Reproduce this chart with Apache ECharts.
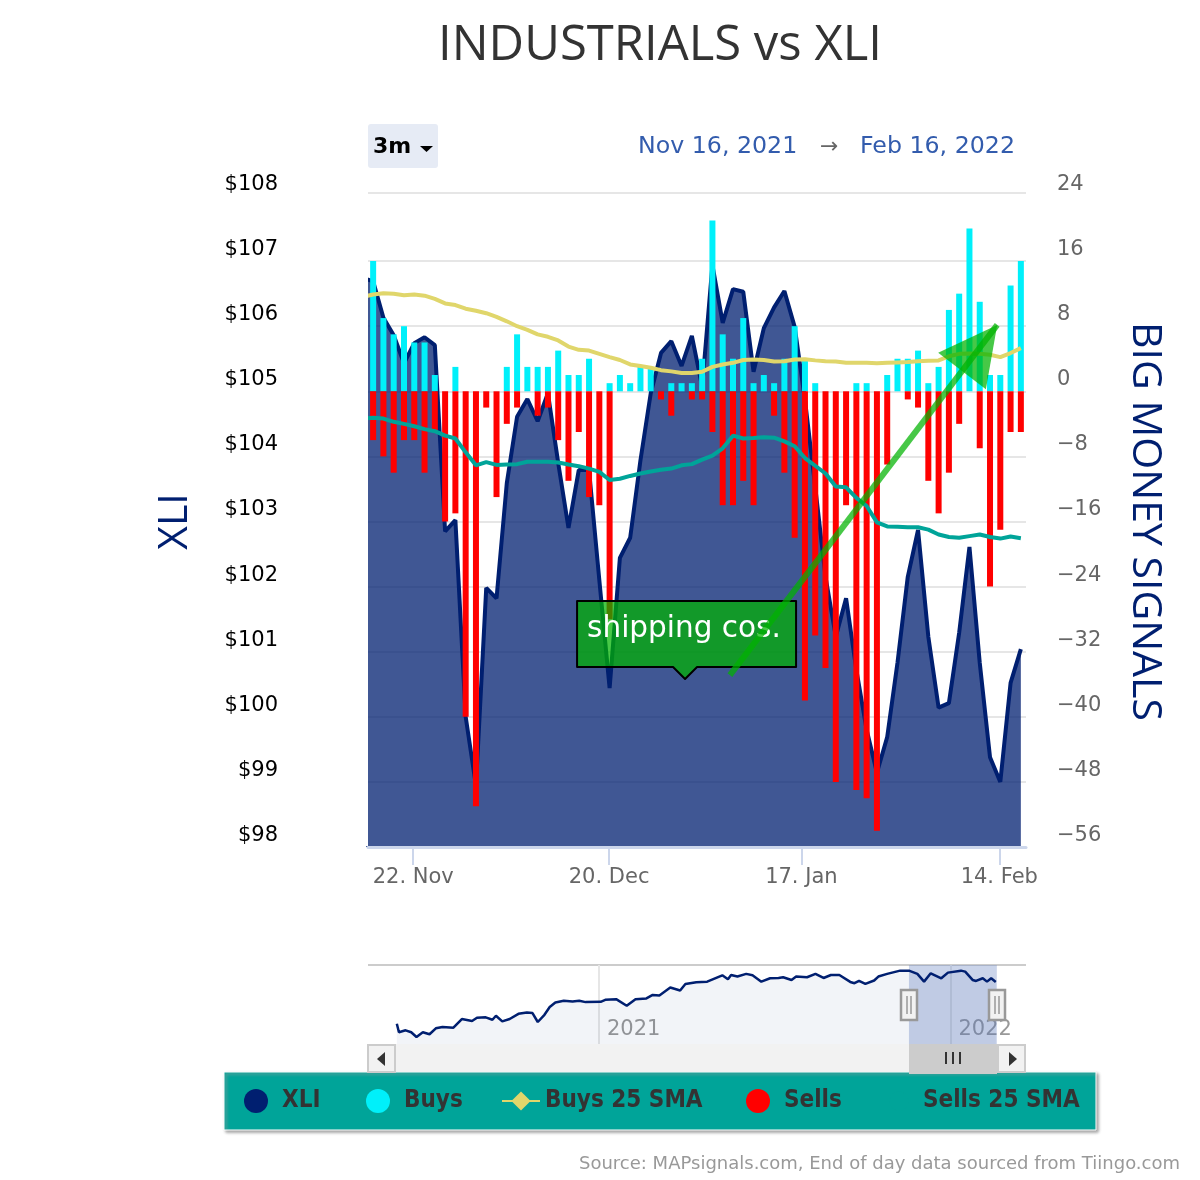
<!DOCTYPE html>
<html>
<head>
<meta charset="utf-8">
<style>
  html, body { margin: 0; padding: 0; background: #fff; }
  #chart { width: 1200px; height: 1180px; }
</style>
<script src="https://cdn.jsdelivr.net/npm/echarts@6/dist/echarts.min.js"></script>
</head>
<body>
<div id="chart"></div>
<script>
// first entry of the line arrays is the session before the window, clipped by the plot edge
const xliPrices = [106.74, 106.69, 106.13, 105.86, 105.43, 105.74, 105.83, 105.71, 102.85, 103.02, 100.0, 98.94, 101.98, 101.82, 103.59, 104.61, 104.88, 104.54, 104.97, 103.9, 102.9, 103.79, 103.79, 102.1, 100.44, 102.44, 102.75, 103.94, 104.97, 105.59, 105.77, 105.39, 105.85, 105.07, 106.94, 106.05, 106.57, 106.53, 105.3, 105.97, 106.29, 106.54, 105.99, 104.87, 103.53, 102.15, 101.23, 101.82, 100.72, 99.8, 99.14, 99.69, 100.83, 102.15, 102.87, 101.23, 100.14, 100.21, 101.29, 102.61, 100.83, 99.38, 99.0, 100.52, 101.04]
const buysSma = [11.6, 11.9, 12.05, 12.0, 11.8, 11.9, 11.75, 11.35, 10.8, 10.6, 10.15, 9.9, 9.6, 9.15, 8.6, 8.0, 7.55, 7.0, 6.7, 6.25, 5.5, 5.1, 5.0, 4.6, 4.2, 3.85, 3.3, 3.1, 2.9, 2.6, 2.45, 2.25, 2.25, 2.4, 3.0, 3.3, 3.5, 3.85, 3.9, 3.85, 3.65, 3.7, 3.9, 3.95, 3.8, 3.7, 3.65, 3.5, 3.5, 3.5, 3.45, 3.5, 3.55, 3.6, 3.7, 3.75, 3.8, 4.3, 4.6, 4.65, 4.6, 4.5, 4.2, 4.7, 5.3]
const sellsSma = [-3.35, -3.25, -3.35, -3.75, -4.0, -4.3, -4.65, -4.9, -5.45, -5.8, -7.5, -9.1, -8.7, -9.05, -9.0, -8.95, -8.65, -8.65, -8.65, -8.75, -9.0, -9.2, -9.5, -9.9, -10.9, -10.75, -10.4, -10.1, -9.85, -9.65, -9.5, -9.1, -8.95, -8.4, -7.9, -7.0, -5.45, -5.8, -5.75, -5.65, -5.7, -6.15, -6.75, -8.2, -9.15, -10.1, -11.7, -11.8, -13.1, -14.1, -16.1, -16.6, -16.65, -16.7, -16.7, -17.0, -17.6, -17.9, -18.0, -17.8, -17.6, -17.9, -18.1, -17.85, -18.05]
const buys = [16, 9, 7, 8, 6, 6, 2, 0, 3, 0, 0, 0, 0, 3, 7, 3, 3, 3, 5, 2, 2, 4, 0, 1, 2, 1, 3, 3, 0, 1, 1, 1, 4, 21, 7, 4, 9, 1, 2, 1, 4, 8, 4, 1, 0, 0, 0, 1, 1, 0, 2, 4, 4, 5, 1, 3, 10, 12, 20, 11, 2, 2, 13, 16]
const sells = [-6, -8, -10, -6, -6, -10, -5, -16, -15, -40, -51, -2, -13, -4, -2, 0, -3, -2, -6, -11, -5, -13, -14, -28, 0, 0, 0, 0, -1, -3, 0, -1, -1, -5, -14, -14, -11, -14, 0, -3, -10, -18, -38, -30, -34, -48, -14, -49, -50, -54, -9, 0, -1, -2, -11, -15, -10, -4, 0, -7, -24, -17, -5, -5]

const dateTicks = [3.9, 22.95, 41.65, 60.9]
const dateTickLabels = ['22. Nov', '20. Dec', '17. Jan', '14. Feb']

const navYears = [2020.425, 2020.431, 2020.45, 2020.466, 2020.481, 2020.499, 2020.518, 2020.536, 2020.555, 2020.586, 2020.61, 2020.639, 2020.653, 2020.678, 2020.697, 2020.707, 2020.725, 2020.746, 2020.771, 2020.795, 2020.811, 2020.826, 2020.845, 2020.86, 2020.876, 2020.9, 2020.925, 2020.944, 2020.962, 2021.005, 2021.018, 2021.049, 2021.079, 2021.104, 2021.135, 2021.153, 2021.172, 2021.203, 2021.231, 2021.246, 2021.277, 2021.308, 2021.351, 2021.367, 2021.376, 2021.394, 2021.419, 2021.437, 2021.462, 2021.487, 2021.511, 2021.524, 2021.548, 2021.561, 2021.592, 2021.616, 2021.639, 2021.66, 2021.684, 2021.715, 2021.727, 2021.74, 2021.758, 2021.783, 2021.795, 2021.82, 2021.857, 2021.882, 2021.906, 2021.925, 2021.944, 2021.974, 2021.993, 2022.03, 2022.042, 2022.063, 2022.073, 2022.092, 2022.104, 2022.116, 2022.129]
const navPrices = [69.4, 63.3, 64.7, 63.3, 60.0, 63.3, 61.9, 66.1, 67.1, 66.6, 72.7, 71.3, 73.6, 73.9, 72.2, 75.0, 71.0, 72.7, 76.4, 77.4, 76.9, 70.6, 75.7, 81.2, 84.4, 85.6, 85.1, 85.6, 84.7, 84.9, 86.3, 86.8, 82.1, 86.8, 87.3, 89.8, 89.4, 95.0, 92.9, 97.6, 98.8, 99.2, 103.7, 100.9, 103.9, 102.8, 104.7, 103.7, 99.2, 101.6, 101.8, 102.3, 100.4, 102.8, 102.3, 104.7, 101.8, 103.9, 103.9, 99.0, 98.1, 99.7, 97.6, 100.0, 102.8, 104.7, 107.0, 107.0, 104.7, 99.2, 105.1, 101.6, 105.6, 107.0, 106.3, 100.4, 99.7, 101.6, 99.2, 101.6, 99.0]
const navYearTicks = [2021, 2022]
const navWindow = [2021.882, 2022.132]

// annotation anchors, [session index, XLI price]
const calloutTip = [30.34, 100.58]
const arrowStart = [34.7, 100.64]
const arrowEnd = [60.7, 106.02]

const NAVY = '#001f70'
const TEAL = '#00a499'
const YELLOW = '#e0d66b'
const ANNOTATION_GREEN = 'rgba(0, 179, 0, 0.72)'
const FONT = '"DejaVu Sans", sans-serif'
const HEADING_FONT = '"Open Sans", sans-serif'
const LEGEND_FONT = '"DejaVu Sans Condensed", "DejaVu Sans", sans-serif'

const linePoints = (values) => values.map((v, i) => [i - 1, v])
const barPoints = (values) => values.map((v, i) => [i, v])

// one legend per entry: ECharts measures the condensed bold text short, so a shared row drifts
const legendEntry = (name, left, isDot) => ({
  left,
  top: 1084,
  itemWidth: isDot ? 42 : 38,
  itemHeight: 24,
  textStyle: { color: '#333', fontFamily: LEGEND_FONT, fontWeight: 'bold', fontSize: 24 },
  data: [isDot ? { name, icon: 'circle' } : { name }]
})

const renderCallout = (params, api) => {
  const [x, y] = api.coord(calloutTip)
  const left = x - 108
  const right = x + 111
  const top = y - 78
  const bottom = y - 12
  return {
    type: 'group',
    children: [{
      type: 'polygon',
      shape: {
        points: [[left, top], [right, top], [right, bottom], [x + 12, bottom], [x, y], [x - 12, bottom], [left, bottom]]
      },
      style: { fill: ANNOTATION_GREEN, stroke: '#000', lineWidth: 2, lineJoin: 'round' }
    }, {
      type: 'text',
      style: {
        text: 'shipping cos.',
        x: x - 98,
        y: y - 50,
        fill: '#fff',
        font: '29.5px ' + FONT,
        verticalAlign: 'middle'
      }
    }]
  }
}

const renderArrow = (params, api) => {
  const from = api.coord(arrowStart)
  const to = api.coord(arrowEnd)
  const len = Math.hypot(to[0] - from[0], to[1] - from[1])
  const ux = (to[0] - from[0]) / len
  const uy = (to[1] - from[1]) / len
  const back = [to[0] - ux * 58, to[1] - uy * 58]
  return {
    type: 'group',
    children: [{
      type: 'line',
      shape: { x1: from[0], y1: from[1], x2: to[0], y2: to[1] },
      style: { stroke: ANNOTATION_GREEN, lineWidth: 6, fill: null }
    }, {
      type: 'polygon',
      shape: {
        points: [to, [back[0] + uy * 30, back[1] - ux * 30], [back[0] - uy * 30, back[1] + ux * 30]]
      },
      style: { fill: ANNOTATION_GREEN }
    }]
  }
}

const headerText = (text, x, fill, font) => ({
  type: 'text',
  x,
  y: 147,
  style: { text, fill, font, verticalAlign: 'middle' }
})

const navHandle = (cx) => ({
  type: 'group',
  children: [
    { type: 'rect', z: 10, shape: { x: cx - 8, y: 990, width: 16, height: 30 }, style: { fill: '#f2f2f2', stroke: '#999', lineWidth: 2.5 } },
    { type: 'line', z: 10, shape: { x1: cx - 2, y1: 996, x2: cx - 2, y2: 1014 }, style: { stroke: '#999', lineWidth: 1.5 } },
    { type: 'line', z: 10, shape: { x1: cx + 2, y1: 996, x2: cx + 2, y2: 1014 }, style: { stroke: '#999', lineWidth: 1.5 } }
  ]
})

const chart = echarts.init(document.getElementById('chart'))

chart.setOption({
  animation: false,
  title: {
    text: 'INDUSTRIALS vs XLI',
    left: 655,
    textAlign: 'center',
    top: 17,
    textStyle: { fontFamily: HEADING_FONT, fontSize: 49, fontWeight: 'normal', color: '#333' }
  },
  grid: [
    { left: 368, right: 174, top: 196, height: 651 },
    { left: 368, right: 174, top: 965, height: 79 }
  ],
  xAxis: [{
    type: 'value',
    gridIndex: 0,
    min: -0.5,
    max: 63.5,
    z: 5,
    splitLine: { show: false },
    axisLine: { onZero: false, lineStyle: { color: '#ccd6eb', width: 3 } },
    axisTick: { customValues: dateTicks, length: 18, lineStyle: { color: '#ccd6eb', width: 2 } },
    axisLabel: {
      customValues: dateTicks,
      formatter: (value) => dateTickLabels[dateTicks.indexOf(value)],
      margin: 20,
      color: '#666',
      fontFamily: FONT,
      fontSize: 21
    }
  }, {
    type: 'value',
    gridIndex: 1,
    min: 2020.343,
    max: 2022.215,
    splitLine: { show: false },
    axisLine: { show: false },
    axisTick: { show: true, inside: true, length: 79, customValues: navYearTicks, lineStyle: { color: '#e6e6e6', width: 2 } },
    axisLabel: {
      customValues: navYearTicks,
      inside: true,
      align: 'left',
      margin: 4,
      padding: [0, 0, 0, 8],
      formatter: (value) => String(value),
      color: '#999',
      fontFamily: FONT,
      fontSize: 21
    }
  }],
  yAxis: [{
    type: 'value',
    gridIndex: 0,
    min: 98,
    max: 108,
    interval: 1,
    name: 'XLI',
    nameLocation: 'middle',
    nameRotate: 90,
    nameGap: 172,
    nameTextStyle: { color: NAVY, fontFamily: HEADING_FONT, fontSize: 41 },
    axisLine: { show: false },
    axisTick: { show: false },
    splitLine: { showMaxLine: false, lineStyle: { color: '#e6e6e6', width: 2 } },
    axisLabel: {
      margin: 90,
      verticalAlign: 'bottom',
      padding: [0, 0, 1, 0],
      formatter: (value) => '$' + value,
      color: '#000',
      fontFamily: FONT,
      fontSize: 21
    }
  }, {
    type: 'value',
    gridIndex: 0,
    position: 'right',
    min: -56,
    max: 24,
    interval: 8,
    name: 'BIG MONEY SIGNALS',
    nameLocation: 'middle',
    nameRotate: -90,
    nameGap: 98,
    nameTextStyle: { color: NAVY, fontFamily: HEADING_FONT, fontSize: 41 },
    axisLine: { show: false },
    axisTick: { show: false },
    splitLine: { show: false },
    axisLabel: {
      margin: 31,
      verticalAlign: 'bottom',
      padding: [0, 0, 1, 0],
      formatter: (value) => String(value).replace('-', '\u2212'),
      color: '#666',
      fontFamily: FONT,
      fontSize: 21
    }
  }, {
    type: 'value',
    gridIndex: 1,
    min: 55,
    max: 111,
    show: false
  }],
  legend: [
    legendEntry('XLI', 239, true),
    legendEntry('Buys', 361, true),
    legendEntry('Buys 25 SMA', 496, false),
    legendEntry('Sells', 741, true),
    legendEntry('Sells 25 SMA', 874, false)
  ],
  series: [{
    name: 'XLI',
    type: 'line',
    xAxisIndex: 0,
    yAxisIndex: 0,
    z: 1,
    data: linePoints(xliPrices),
    showSymbol: false,
    symbol: 'circle',
    itemStyle: { color: NAVY },
    lineStyle: { color: NAVY, width: 4 },
    areaStyle: { origin: 'start', opacity: 1, color: 'rgba(0, 31, 112, 0.75)' }
  }, {
    name: 'Buys',
    type: 'bar',
    xAxisIndex: 0,
    yAxisIndex: 1,
    z: 2,
    data: barPoints(buys),
    barWidth: 6,
    barGap: '-100%',
    itemStyle: { color: '#00f0fa' }
  }, {
    name: 'Sells',
    type: 'bar',
    xAxisIndex: 0,
    yAxisIndex: 1,
    z: 2,
    data: barPoints(sells),
    barWidth: 6,
    barGap: '-100%',
    itemStyle: { color: '#ff0000' }
  }, {
    name: 'Buys 25 SMA',
    type: 'line',
    xAxisIndex: 0,
    yAxisIndex: 1,
    z: 3,
    data: linePoints(buysSma),
    showSymbol: false,
    symbol: 'diamond',
    symbolSize: 20,
    itemStyle: { color: YELLOW },
    lineStyle: { color: YELLOW, width: 4 }
  }, {
    name: 'Sells 25 SMA',
    type: 'line',
    xAxisIndex: 0,
    yAxisIndex: 1,
    z: 3,
    data: linePoints(sellsSma),
    showSymbol: false,
    symbol: 'none',
    itemStyle: { color: TEAL },
    lineStyle: { color: TEAL, width: 4 }
  }, {
    name: 'callout',
    type: 'custom',
    xAxisIndex: 0,
    yAxisIndex: 0,
    z: 4,
    clip: false,
    silent: true,
    data: [calloutTip],
    renderItem: renderCallout
  }, {
    name: 'arrow',
    type: 'custom',
    xAxisIndex: 0,
    yAxisIndex: 0,
    z: 5,
    clip: false,
    silent: true,
    data: [arrowEnd],
    renderItem: renderArrow
  }, {
    name: 'navigator',
    type: 'line',
    xAxisIndex: 1,
    yAxisIndex: 2,
    z: 2,
    data: navYears.map((year, i) => [year, navPrices[i]]),
    showSymbol: false,
    lineStyle: { color: NAVY, width: 2.5 },
    areaStyle: { origin: 'start', opacity: 1, color: 'rgba(0, 31, 112, 0.05)' },
    markArea: {
      silent: true,
      itemStyle: { color: 'rgba(102, 133, 194, 0.35)' },
      data: [[{ xAxis: navWindow[0] }, { xAxis: navWindow[1] }]]
    }
  }],
  graphic: [
    // range selector and date readout
    { type: 'rect', shape: { x: 368, y: 124, width: 70, height: 44, r: 3 }, style: { fill: '#e6ebf5' } },
    headerText('3m', 373, '#000', 'bold 22px ' + FONT),
    { type: 'polygon', shape: { points: [[420, 146], [433, 146], [426.5, 152]] }, style: { fill: '#000' } },
    headerText('Nov 16, 2021', 638, '#335cad', '23.7px ' + FONT),
    headerText('\u2192', 820, '#666', '22px ' + FONT),
    headerText('Feb 16, 2022', 860, '#335cad', '23.7px ' + FONT),
    // top gridline sits a little above the last tick label row, as in the source
    { type: 'line', shape: { x1: 368, y1: 193, x2: 1026, y2: 193 }, style: { stroke: '#e6e6e6', lineWidth: 2 } },
    // trims the line-width bleed on the left of the plot
    { type: 'rect', z: 6, shape: { x: 360, y: 190, width: 8, height: 656 }, style: { fill: '#fff' } },
    // navigator frame and scrollbar
    { type: 'line', shape: { x1: 368, y1: 965, x2: 1026, y2: 965 }, style: { stroke: '#ccc', lineWidth: 2 } },
    { type: 'rect', z: -1, shape: { x: 224, y: 1072, width: 872, height: 58 }, style: { fill: TEAL, stroke: '#fff', lineWidth: 1, shadowBlur: 3, shadowColor: '#999', shadowOffsetX: 2, shadowOffsetY: 2 } },
    { type: 'rect', shape: { x: 368, y: 1044, width: 658, height: 28 }, style: { fill: '#f2f2f2' } },
    { type: 'rect', shape: { x: 368, y: 1045, width: 27, height: 27 }, style: { fill: '#f2f2f2', stroke: '#ccc', lineWidth: 2 } },
    { type: 'rect', shape: { x: 998, y: 1045, width: 27, height: 27 }, style: { fill: '#f2f2f2', stroke: '#ccc', lineWidth: 2 } },
    { type: 'polygon', shape: { points: [[377, 1059], [385, 1052], [385, 1066]] }, style: { fill: '#333' } },
    { type: 'polygon', shape: { points: [[1017, 1059], [1009, 1052], [1009, 1066]] }, style: { fill: '#333' } },
    { type: 'rect', shape: { x: 909, y: 1044, width: 88, height: 30 }, style: { fill: '#ccc' } },
    { type: 'line', shape: { x1: 946, y1: 1052, x2: 946, y2: 1064 }, style: { stroke: '#333', lineWidth: 2 } },
    { type: 'line', shape: { x1: 953, y1: 1052, x2: 953, y2: 1064 }, style: { stroke: '#333', lineWidth: 2 } },
    { type: 'line', shape: { x1: 960, y1: 1052, x2: 960, y2: 1064 }, style: { stroke: '#333', lineWidth: 2 } },
    navHandle(909),
    navHandle(997),
    { type: 'text', x: 1180, y: 1164, style: { text: 'Source: MAPsignals.com, End of day data sourced from Tiingo.com', fill: '#999', font: '18px ' + FONT, align: 'right', verticalAlign: 'middle' } }
  ]
})

window.addEventListener('resize', () => chart.resize())
</script>
</body>
</html>
